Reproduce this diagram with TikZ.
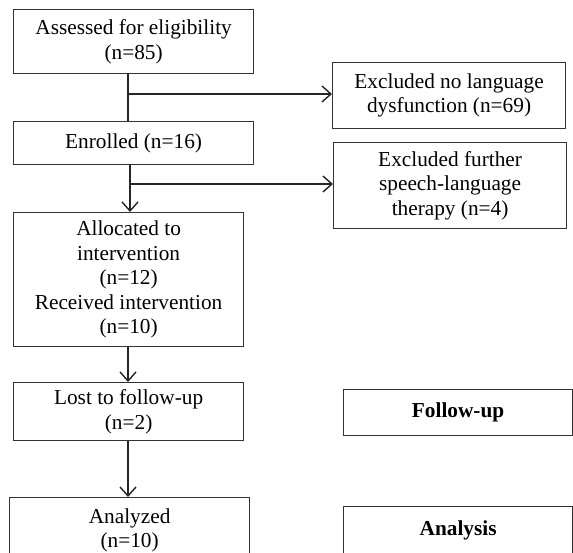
\documentclass[tikz,border=0pt]{standalone}
\usepackage{fontspec}
\setmainfont{Liberation Serif}
\usetikzlibrary{arrows.meta,calc}
\begin{document}
\begin{tikzpicture}[x=1pt,y=-1pt,
  box/.style={draw=black!80,line width=1.2pt,anchor=north west,inner sep=0pt,align=center,
    font=\fontsize{21.3}{24.4}\selectfont},
  arr/.style={line width=1.2pt,-{Straight Barb[length=9pt,width=16pt,line width=1.4pt]}},
  ln/.style={line width=1.2pt,draw=black!85}]
\useasboundingbox (0,0) rectangle (573,553);
\clip (0,0) rectangle (573,553);
\node[box,minimum width=240,minimum height=64] (a) at (13,9) {Assessed for eligibility\\(n=85)};
\node[box,minimum width=233,minimum height=66] (ex1) at (332,62) {Excluded no language\\dysfunction (n=69)};
\node[box,minimum width=240,minimum height=43] (en) at (13,121) {Enrolled (n=16)};
\node[box,minimum width=233,minimum height=86] (ex2) at (333,142) {Excluded further\\speech-language\\therapy (n=4)};
\node[box,minimum width=230,minimum height=134] (al) at (13,212) {Allocated to\\intervention\\(n=12)\\Received intervention\\(n=10)};
\node[box,minimum width=230,minimum height=58] (lo) at (13,382) {Lost to follow-up\\(n=2)};
\node[box,minimum width=240,minimum height=66] (an) at (9,497) {Analyzed\\(n=10)};
\node[box,minimum width=229,minimum height=46] (fu) at (343,389) {\textbf{Follow-up}};
\node[box,minimum width=229,minimum height=48] (ay) at (343,506) {\textbf{Analysis}};
\coordinate (j1) at (128,94);
\coordinate (j2) at (130,184);
\coordinate (j3) at (128,0);
\draw[ln] (j1 |- a.south) -- (j1 |- en.north);
\draw[ln,arr] (j1) -- (j1 -| ex1.west);
\draw[ln,arr] (j2 |- en.south) -- (j2 |- al.north);
\draw[ln,arr] (j2) -- (j2 -| ex2.west);
\draw[ln,arr] (j3 |- al.south) -- (j3 |- lo.north);
\draw[ln,arr] (j3 |- lo.south) -- (j3 |- an.north);
\end{tikzpicture}
\end{document}
